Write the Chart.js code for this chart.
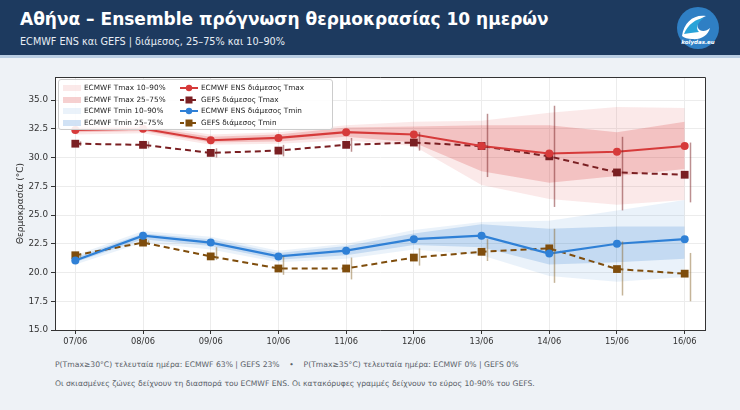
<!DOCTYPE html>
<html>
<head>
<meta charset="utf-8">
<script src="https://cdn.jsdelivr.net/npm/chart.js@4.4.1/dist/chart.umd.min.js"></script>
<style>
  body { margin: 0; width: 740px; height: 410px; background: #eef2f6; font-family: "DejaVu Sans", sans-serif; position: relative; overflow: hidden; }
  #header { position: absolute; left: 0; top: 0; width: 740px; height: 55px; background: #1d3a5f; border-bottom: 3px solid #b9cde2; }
  #title { position: absolute; left: 20px; top: 9px; color: #fff; font-weight: bold; font-size: 17px; white-space: nowrap; }
  #subtitle { position: absolute; left: 20px; top: 36px; color: #e8eef5; font-size: 9.7px; white-space: nowrap; }
  #logo { position: absolute; left: 676px; top: 6px; }
  #wrap { position: absolute; left: 0; top: 60px; }
  #legend { position: absolute; left: 58px; top: 79px; width: 273px; height: 49px; background: rgba(255,255,255,0.9); border: 1px solid #ccc; border-radius: 3px; font-size: 7.3px; color: #222; }
  .li { position: absolute; white-space: nowrap; height: 10px; line-height: 10px; }
  .li svg { position: absolute; left: 0; top: 1px; }
  .li span { position: absolute; left: 21px; top: 0; }
  .foot { position: absolute; left: 55px; font-size: 7.65px; color: #5a6168; white-space: nowrap; }
</style>
</head>
<body>
<div id="header">
  <div id="title">Αθήνα – Ensemble πρόγνωση θερμοκρασίας 10 ημερών</div>
  <div id="subtitle">ECMWF ENS και GEFS | διάμεσος, 25–75% και 10–90%</div>
  <svg id="logo" width="44" height="44" viewBox="0 0 44 44">
    <circle cx="22" cy="22" r="21" fill="#2f7fc4"/>
    <path d="M6 30 C8 16 18 8 30 10 C24 12 20 17 22 22 C24 26 30 26 34 22 C32 30 24 34 16 33 C12 33 8 32 6 30 Z" fill="#ffffff"/>
    <path d="M8 28 C12 18 20 13 28 12 C22 16 19 22 23 26 C17 27 12 27 8 28 Z" fill="#29a3d8"/>
    <text x="22" y="38" font-size="5.5" fill="#fff" text-anchor="middle" font-family="DejaVu Sans" font-style="italic" font-weight="bold">kolydas.eu</text>
  </svg>
</div>

<div id="wrap"><canvas id="chart" width="740" height="300"></canvas></div>

<div id="legend">
  <div class="li" style="left:4px;top:3px"><svg width="18" height="8"><rect x="0" y="1" width="18" height="6" fill="rgba(214,39,40,0.10)"/></svg><span>ECMWF Tmax 10–90%</span></div>
  <div class="li" style="left:4px;top:14.5px"><svg width="18" height="8"><rect x="0" y="1" width="18" height="6" fill="rgba(214,39,40,0.22)"/></svg><span>ECMWF Tmax 25–75%</span></div>
  <div class="li" style="left:4px;top:26px"><svg width="18" height="8"><rect x="0" y="1" width="18" height="6" fill="rgba(45,125,210,0.10)"/></svg><span>ECMWF Tmin 10–90%</span></div>
  <div class="li" style="left:4px;top:37.5px"><svg width="18" height="8"><rect x="0" y="1" width="18" height="6" fill="rgba(45,125,210,0.22)"/></svg><span>ECMWF Tmin 25–75%</span></div>
  <div class="li" style="left:121px;top:3px"><svg width="18" height="8"><line x1="0" y1="4" x2="18" y2="4" stroke="#d63a3a" stroke-width="2"/><circle cx="9" cy="4" r="3.2" fill="#d63a3a"/></svg><span>ECMWF ENS διάμεσος Tmax</span></div>
  <div class="li" style="left:121px;top:14.5px"><svg width="18" height="8"><line x1="0" y1="4" x2="18" y2="4" stroke="#7a1f22" stroke-width="2" stroke-dasharray="4,2"/><rect x="5.5" y="0.5" width="7" height="7" fill="#7a1f22"/></svg><span>GEFS διάμεσος Tmax</span></div>
  <div class="li" style="left:121px;top:26px"><svg width="18" height="8"><line x1="0" y1="4" x2="18" y2="4" stroke="#2f80d6" stroke-width="2"/><circle cx="9" cy="4" r="3.2" fill="#2f80d6"/></svg><span>ECMWF ENS διάμεσος Tmin</span></div>
  <div class="li" style="left:121px;top:37.5px"><svg width="18" height="8"><line x1="0" y1="4" x2="18" y2="4" stroke="#7f4d0c" stroke-width="2" stroke-dasharray="4,2"/><rect x="5.5" y="0.5" width="7" height="7" fill="#7f4d0c"/></svg><span>GEFS διάμεσος Tmin</span></div>
</div>

<div class="foot" style="top:360px">P(Tmax≥30°C) τελευταία ημέρα: ECMWF 63% | GEFS 23% &nbsp;&nbsp; • &nbsp;&nbsp; P(Tmax≥35°C) τελευταία ημέρα: ECMWF 0% | GEFS 0%</div>
<div class="foot" style="top:379px">Οι σκιασμένες ζώνες δείχνουν τη διασπορά του ECMWF ENS. Οι κατακόρυφες γραμμές δείχνουν το εύρος 10-90% του GEFS.</div>

<script>
const days = ['07/06', '08/06', '09/06', '10/06', '11/06', '12/06', '13/06', '14/06', '15/06', '16/06'];
const yTicks = [15, 17.5, 20, 22.5, 25, 27.5, 30, 32.5, 35];

// ECMWF ENS Tmax
const ecmTmaxMed = [32.4, 32.5, 31.5, 31.7, 32.2, 32.0, 31.0, 30.35, 30.5, 31.0];
const ecmTmaxP10 = [32.0, 32.1, 31.1, 31.2, 31.5, 31.0, 27.6, 26.4, 25.9, 26.3];
const ecmTmaxP25 = [32.2, 32.3, 31.3, 31.4, 31.8, 31.3, 28.8, 27.8, 28.4, 29.0];
const ecmTmaxP75 = [32.6, 32.7, 31.8, 32.0, 32.6, 32.7, 32.8, 32.8, 32.2, 33.1];
const ecmTmaxP90 = [32.8, 32.9, 32.0, 32.2, 32.8, 33.1, 33.2, 33.9, 34.4, 34.3];

// ECMWF ENS Tmin
const ecmTminMed = [21.05, 23.2, 22.6, 21.4, 21.9, 22.9, 23.2, 21.65, 22.5, 22.9];
const ecmTminP10 = [20.7, 22.6, 22.0, 20.9, 21.2, 22.0, 21.5, 19.7, 19.2, 19.6];
const ecmTminP25 = [20.9, 22.9, 22.3, 21.1, 21.5, 22.4, 22.2, 20.7, 20.9, 21.2];
const ecmTminP75 = [21.3, 23.4, 22.9, 21.7, 22.3, 23.4, 24.2, 23.8, 24.0, 24.0];
const ecmTminP90 = [21.5, 23.6, 23.1, 21.9, 22.5, 23.7, 24.4, 24.5, 25.4, 26.3];

// GEFS
const gefsTmaxMed = [31.2, 31.1, 30.4, 30.6, 31.1, 31.3, 31.0, 30.1, 28.7, 28.5];
const gefsTmaxP10 = [31.0, 30.8, 30.0, 30.1, 30.5, 30.6, 28.3, 25.7, 25.4, 26.1];
const gefsTmaxP90 = [31.4, 31.4, 30.8, 31.1, 31.7, 32.2, 33.8, 34.5, 31.8, 31.3];
const gefsTminMed = [21.5, 22.6, 21.4, 20.35, 20.35, 21.3, 21.8, 22.1, 20.3, 19.9];
const gefsTminP10 = [21.3, 22.4, 21.1, 19.8, 19.4, 20.6, 21.0, 19.1, 18.0, 17.5];
const gefsTminP90 = [21.7, 22.8, 22.2, 21.4, 21.3, 22.1, 22.9, 23.8, 22.7, 21.7];

function pts(arr) {
    return arr.map((v, i) => ({ x: i, y: v }));
}

function band(arr, color, fillTo) {
    return {
        data: pts(arr),
        borderWidth: 0,
        pointRadius: 0,
        backgroundColor: color,
        fill: fillTo,
        order: 10
    };
}

// GEFS 10-90% bars, drawn a little to the right of each point
const gefsBars = {
    id: 'gefsBars',
    afterDatasetsDraw(chart) {
        const ctx = chart.ctx;
        const xs = chart.scales.x, ys = chart.scales.y;
        const sets = [
            [gefsTmaxP10, gefsTmaxP90, 'rgba(122,31,34,0.5)'],
            [gefsTminP10, gefsTminP90, 'rgba(140,105,50,0.5)']
        ];
        ctx.save();
        ctx.lineWidth = 1.5;
        sets.forEach(s => {
            ctx.strokeStyle = s[2];
            s[0].forEach((lo, i) => {
                const x = Math.round(xs.getPixelForValue(i)) + 5.5;
                ctx.beginPath();
                ctx.moveTo(x, ys.getPixelForValue(lo));
                ctx.lineTo(x, ys.getPixelForValue(s[1][i]));
                ctx.stroke();
            });
        });
        // top and right frame
        const a = chart.chartArea;
        ctx.strokeStyle = '#333';
        ctx.lineWidth = 1;
        ctx.beginPath();
        ctx.moveTo(a.left, a.top + 0.5);
        ctx.lineTo(a.right + 0.5, a.top + 0.5);
        ctx.lineTo(a.right + 0.5, a.bottom);
        ctx.stroke();
        ctx.restore();
    }
};

const whiteArea = {
    id: 'whiteArea',
    beforeDraw(chart) {
        const a = chart.chartArea;
        chart.ctx.save();
        chart.ctx.fillStyle = '#ffffff';
        chart.ctx.fillRect(a.left, a.top, a.right - a.left, a.bottom - a.top);
        chart.ctx.restore();
    }
};

new Chart(document.getElementById('chart'), {
    type: 'line',
    data: {
        datasets: [
            band(ecmTmaxP10, 'rgba(0,0,0,0)', false),
            band(ecmTmaxP90, 'rgba(214,39,40,0.10)', '-1'),
            band(ecmTmaxP25, 'rgba(0,0,0,0)', false),
            band(ecmTmaxP75, 'rgba(214,39,40,0.20)', '-1'),
            band(ecmTminP10, 'rgba(0,0,0,0)', false),
            band(ecmTminP90, 'rgba(45,125,210,0.10)', '-1'),
            band(ecmTminP25, 'rgba(0,0,0,0)', false),
            band(ecmTminP75, 'rgba(45,125,210,0.20)', '-1'),
            {
                label: 'ECMWF ENS διάμεσος Tmax',
                data: pts(ecmTmaxMed),
                borderColor: '#d63a3a', backgroundColor: '#d63a3a',
                borderWidth: 2.2, pointRadius: 4, pointBorderWidth: 0, order: 1
            },
            {
                label: 'GEFS διάμεσος Tmax',
                data: pts(gefsTmaxMed),
                borderColor: '#7a1f22', backgroundColor: '#7a1f22',
                borderWidth: 2, borderDash: [6, 4], pointStyle: 'rect', pointRadius: 5.5, pointBorderWidth: 0, order: 2
            },
            {
                label: 'ECMWF ENS διάμεσος Tmin',
                data: pts(ecmTminMed),
                borderColor: '#2f80d6', backgroundColor: '#2f80d6',
                borderWidth: 2.2, pointRadius: 4, pointBorderWidth: 0, order: 1
            },
            {
                label: 'GEFS διάμεσος Tmin',
                data: pts(gefsTminMed),
                borderColor: '#7f4d0c', backgroundColor: '#7f4d0c',
                borderWidth: 2, borderDash: [6, 4], pointStyle: 'rect', pointRadius: 5.5, pointBorderWidth: 0, order: 2
            }
        ]
    },
    options: {
        responsive: false,
        animation: false,
        layout: { padding: { top: 17, left: 10, right: 35, bottom: 5 } },
        plugins: {
            legend: { display: false },
            tooltip: { enabled: false }
        },
        scales: {
            x: {
                type: 'linear',
                min: -0.3,
                max: 9.3,
                afterBuildTicks: s => { s.ticks = days.map((d, i) => ({ value: i })); },
                afterFit: s => { s.height = 25; },
                ticks: {
                    callback: v => days[v],
                    color: '#333',
                    font: { family: 'DejaVu Sans', size: 8.3 },
                    padding: 3,
                    maxRotation: 0
                },
                grid: { color: '#ececec', tickColor: '#333', tickLength: 4 },
                border: { color: '#333', width: 1 }
            },
            y: {
                min: 15,
                max: 37,
                afterBuildTicks: s => { s.ticks = yTicks.map(v => ({ value: v })); },
                afterFit: s => { s.width = 45; },
                ticks: {
                    callback: v => v.toFixed(1),
                    color: '#333',
                    font: { family: 'DejaVu Sans', size: 8.8 },
                    padding: 3
                },
                grid: { color: '#ececec', tickColor: '#333', tickLength: 4 },
                border: { color: '#333', width: 1 },
                title: {
                    display: true,
                    text: 'Θερμοκρασία (°C)',
                    color: '#333',
                    font: { family: 'DejaVu Sans', size: 9 },
                    padding: { top: 5, bottom: 4 }
                }
            }
        }
    },
    plugins: [whiteArea, gefsBars]
});
</script>
</body>
</html>
